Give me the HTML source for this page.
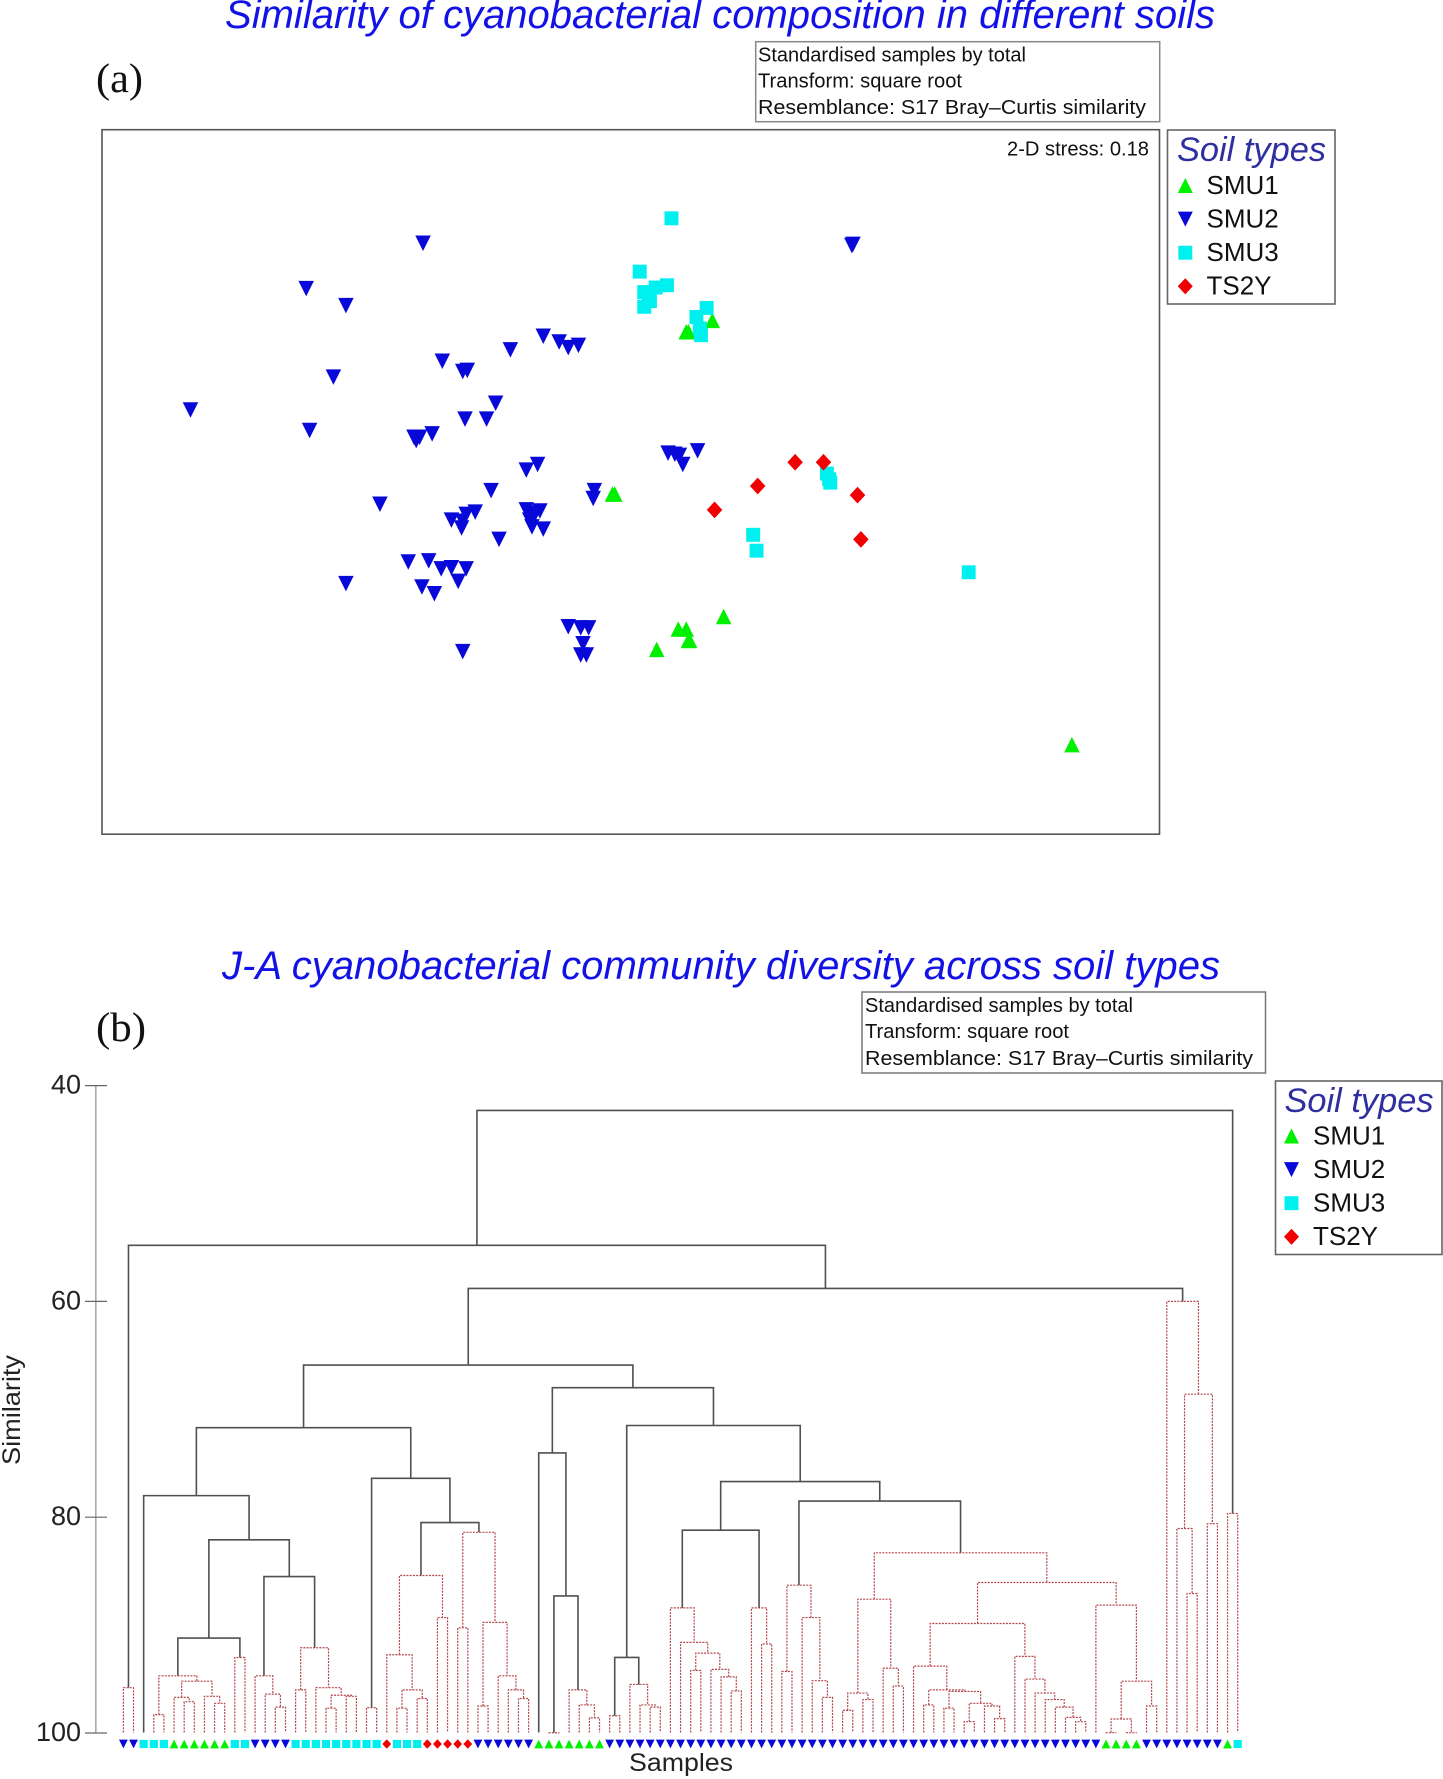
<!DOCTYPE html>
<html lang="en">
<head>
<meta charset="utf-8">
<title>Cyanobacterial composition in soils</title>
<style>
html,body{margin:0;padding:0;background:#fff;}
svg{display:block;}
text{font-family:"Liberation Sans",sans-serif;}
.serif{font-family:"Liberation Serif",serif;}
.title{font-style:italic;font-size:40px;fill:#1212e6;}
.info{font-size:20px;fill:#111;}
.legtitle{font-style:italic;font-size:34px;fill:#2f2f9f;}
.leg{font-size:26px;fill:#111;}
.tick{font-size:27px;fill:#222;text-anchor:end;}
</style>
</head>
<body>
<svg id="figure" xmlns="http://www.w3.org/2000/svg" width="1443" height="1779" viewBox="0 0 1443 1779">
  <rect x="0" y="0" width="1443" height="1779" fill="#fff"/>

  <text class="title" x="225" y="28" textLength="990" lengthAdjust="spacingAndGlyphs">Similarity of cyanobacterial composition in different soils</text>
  <text class="serif" x="96" y="92" font-size="41" fill="#111" textLength="47" lengthAdjust="spacingAndGlyphs">(a)</text>

  <rect x="755.7" y="41.7" width="404" height="80" fill="#fff" stroke="#888" stroke-width="1.5"/>
  <text class="info" x="758" y="61.5" textLength="268" lengthAdjust="spacingAndGlyphs">Standardised samples by total</text>
  <text class="info" x="758" y="87.5" textLength="204" lengthAdjust="spacingAndGlyphs">Transform: square root</text>
  <text class="info" x="758" y="114" textLength="388" lengthAdjust="spacingAndGlyphs">Resemblance: S17 Bray–Curtis similarity</text>

  <rect x="102" y="129.7" width="1057.5" height="704.5" fill="#fff" stroke="#555" stroke-width="1.6"/>
  <text class="info" x="1007" y="155.5" textLength="142" lengthAdjust="spacingAndGlyphs">2-D stress: 0.18</text>

  <g id="legend-a">
    <rect x="1167.5" y="130" width="167.5" height="174" fill="#fff" stroke="#666" stroke-width="1.6"/>
    <text class="legtitle" x="1177" y="161" textLength="149" lengthAdjust="spacingAndGlyphs">Soil types</text>
    <text class="leg" x="1206.5" y="194">SMU1</text>
    <text class="leg" x="1206.5" y="227.5">SMU2</text>
    <text class="leg" x="1206.5" y="261">SMU3</text>
    <text class="leg" x="1206.5" y="294.5">TS2Y</text>
  </g>
  <g id="mds-marks"></g>

  <text class="title" x="222" y="979" textLength="998" lengthAdjust="spacingAndGlyphs">J-A cyanobacterial community diversity across soil types</text>
  <text class="serif" x="96" y="1041" font-size="41" fill="#111" textLength="50" lengthAdjust="spacingAndGlyphs">(b)</text>

  <rect x="862" y="992" width="403.5" height="81" fill="#fff" stroke="#777" stroke-width="1.5"/>
  <text class="info" x="865" y="1012" textLength="268" lengthAdjust="spacingAndGlyphs">Standardised samples by total</text>
  <text class="info" x="865" y="1038" textLength="204" lengthAdjust="spacingAndGlyphs">Transform: square root</text>
  <text class="info" x="865" y="1065" textLength="388" lengthAdjust="spacingAndGlyphs">Resemblance: S17 Bray–Curtis similarity</text>

  <g id="legend-b">
    <rect x="1275.5" y="1081" width="166.5" height="173.5" fill="#fff" stroke="#666" stroke-width="1.6"/>
    <text class="legtitle" x="1284.5" y="1112" textLength="149" lengthAdjust="spacingAndGlyphs">Soil types</text>
    <text class="leg" x="1313" y="1144.5">SMU1</text>
    <text class="leg" x="1313" y="1178">SMU2</text>
    <text class="leg" x="1313" y="1211.5">SMU3</text>
    <text class="leg" x="1313" y="1245">TS2Y</text>
  </g>

  <g id="dendro-axis"></g>
  <text transform="translate(20,1410) rotate(-90)" text-anchor="middle" font-size="25" fill="#222" textLength="110" lengthAdjust="spacingAndGlyphs">Similarity</text>
  <g id="dendro-links"></g>
  <g id="dendro-leaves"></g>
  <text x="629" y="1771" font-size="25" fill="#222" textLength="104" lengthAdjust="spacingAndGlyphs">Samples</text>
</svg>

<script>
// ---------- Panel (a): MDS ordination values [mds1, mds2] ----------
var mdsSmu1 = [[4.50,3.00],[4.52,3.00],[5.48,1.92],[5.08,1.81],[5.15,1.81],[5.17,1.71],[5.18,1.71],[4.89,1.63],[8.55,0.79],[5.17,4.43],[5.15,4.43],[5.38,4.53]];
var mdsSmu2 = [[2.83,5.21],[1.80,4.81],[2.15,4.66],[6.61,5.19],[6.62,5.20],[2.04,4.03],[3.00,4.17],[3.18,4.08],[3.22,4.09],[3.60,4.27],[3.89,4.39],[4.03,4.34],[4.11,4.29],[4.20,4.31],[0.78,3.74],[1.83,3.56],[2.77,3.47],[2.80,3.50],[2.91,3.53],[2.75,3.50],[3.20,3.66],[3.39,3.66],[3.47,3.80],[3.74,3.21],[3.84,3.26],[4.99,3.36],[5.05,3.35],[5.09,3.34],[5.12,3.26],[5.25,3.38],[3.43,3.03],[2.45,2.91],[4.34,3.03],[4.33,2.96],[3.29,2.84],[3.21,2.82],[3.08,2.77],[3.17,2.70],[3.18,2.76],[3.74,2.86],[3.86,2.85],[3.79,2.80],[3.77,2.77],[3.79,2.71],[3.89,2.69],[3.82,2.83],[3.50,2.60],[2.70,2.40],[2.88,2.41],[2.99,2.34],[3.08,2.35],[3.21,2.34],[3.14,2.23],[2.82,2.18],[2.93,2.12],[2.15,2.21],[4.11,1.83],[4.22,1.82],[4.29,1.82],[4.24,1.68],[4.22,1.58],[4.27,1.58],[3.18,1.61]];
var mdsSmu3 = [[5.02,5.43],[4.74,4.96],[4.78,4.78],[4.88,4.82],[4.98,4.84],[4.82,4.74],[4.78,4.65],[4.83,4.70],[5.33,4.64],[5.24,4.56],[5.28,4.40],[5.27,4.46],[6.39,3.18],[6.42,3.10],[6.41,3.13],[5.74,2.64],[5.77,2.50],[7.64,2.31]];
var mdsTs2y = [[6.11,3.28],[6.36,3.28],[5.78,3.07],[6.66,2.99],[5.40,2.86],[6.69,2.60]];

// ---------- Panel (b): dendrogram values ----------
var similarityTicks = [40, 60, 80, 100];
// leaf marker type, in dendrogram order: 1=SMU1 2=SMU2 3=SMU3 4=TS2Y
var sampleTypes = [2,2,3,3,3,1,1,1,1,1,1,3,3,2,2,2,2,3,3,3,3,3,3,3,3,3,4,3,3,3,4,4,4,4,4,2,2,2,2,2,2,1,1,1,1,1,1,1,2,2,2,2,2,2,2,2,2,2,2,2,2,2,2,2,2,2,2,2,2,2,2,2,2,2,2,2,2,2,2,2,2,2,2,2,2,2,2,2,2,2,2,2,2,2,2,2,2,1,1,1,1,2,2,2,2,2,2,2,2,1,3];
// tree node: [similarity, left, right, solid]; a bare number is a leaf sample index
var tree = [42.3,
  [54.8,
    [95.8,0,1,0],
    [58.8,
      [65.9,
        [71.7,
          [78.0,2,
            [82.1,
              [91.2,
                [94.7,[98.3,3,4,0],[95.2,[96.7,5,[97.1,6,7,0],0],[96.6,8,[97.25,9,10,0],0],0],0],
                [93.0,11,12,0],1],
              [85.5,
                [94.7,13,[96.4,14,[97.6,15,16,0],0],0],
                [92.1,[96.0,17,18,0],[95.8,19,[96.5,[97.7,20,21,0],[96.6,22,23,0],0],0],0],1],
              1],
            1],
          [76.4,
            [97.65,24,25,0],
            [80.5,
              [85.4,[92.75,26,[96.0,[97.7,27,28,0],[96.8,29,30,0],0],0],[89.3,31,32,0],0],
              [81.4,[90.25,33,34,0],[89.75,[97.5,35,36,0],[94.7,37,[96.0,38,[96.8,39,40,0],0],0],0],0],
              1],
            1],
          1],
        [68.0,
          [74.04,41,[87.3,[99.98,42,43,0],[96.0,44,[97.4,45,[98.6,46,47,0],0],0],1],1],
          [71.5,
            [93.0,[98.4,48,49,0],[95.5,50,[97.4,51,[97.6,52,53,0],0],0],1],
            [76.7,
              [81.2,
                [88.4,54,[91.6,55,[92.6,[94.2,56,57,0],[94.1,58,[94.8,59,[96.1,60,61,0],0],0],0],0],0],
                [88.4,62,[91.75,63,64,0],0],
                1],
              [78.5,
                [86.3,[94.3,65,66,0],[89.3,67,[95.15,68,[96.7,69,70,0],0],0],0],
                [83.3,
                  [87.6,[96.3,[97.9,71,72,0],[96.9,73,74,0],0],[94.0,75,[95.65,76,77,0],0],0],
                  [86.05,
                    [89.85,
                      [93.8,78,[96.0,[97.4,79,80,0],[96.15,[97.7,81,82,0],[97.25,[98.95,83,84,0],[97.5,85,[98.67,86,87,0],0],0],0],0],0],
                      [92.9,88,[95.0,89,[96.3,90,[96.9,91,[97.6,92,[98.55,93,[98.95,94,95,0],0],0],0],0],0],0],
                      0],
                    [88.15,96,[95.2,[98.7,[99.97,97,98,0],[99.97,99,100,0],0],[97.5,101,102,0],0],0],
                    0],
                  0],
                1],
              1],
            1],
          1],
        1],
      [60.0,103,[68.6,[81.05,104,[87.07,105,106,0],0],[80.6,107,108,0],0],0],
      1],
    1],
  [79.65,109,110,0],
  1];

var SVGNS = 'http://www.w3.org/2000/svg';

// Axis functions
function mdsX(v) { return 102 + v * 113.44; }
function mdsY(v) { return 834.3 - v * 113.44; }
function simY(s) { return 1733 - (100 - s) * 10.79; }
function leafX(i) { return 123.4 + i * 10.13; }

var typeColor = { 1: '#00f000', 2: '#0808d8', 3: '#00f0f0', 4: '#f00000' };

function markerPoints(type, cx, cy, size) {
  var r = size / 2;
  if (type === 1) return [[cx, cy - r], [cx + r, cy + r], [cx - r, cy + r]];
  if (type === 2) return [[cx - r, cy - r], [cx + r, cy - r], [cx, cy + r]];
  if (type === 3) return [[cx - r * 0.93, cy - r * 0.93], [cx + r * 0.93, cy - r * 0.93], [cx + r * 0.93, cy + r * 0.93], [cx - r * 0.93, cy + r * 0.93]];
  return [[cx, cy - r * 1.08], [cx + r, cy], [cx, cy + r * 1.08], [cx - r, cy]];
}

function addMarker(parent, type, cx, cy, size, name) {
  var el = document.createElementNS(SVGNS, 'polygon');
  el.setAttribute('points', markerPoints(type, cx, cy, size).map(function (p) { return p[0].toFixed(2) + ',' + p[1].toFixed(2); }).join(' '));
  el.setAttribute('fill', typeColor[type]);
  
  
  parent.appendChild(el);
}

// Panel (a) points, in original stacking order
var mdsGroup = document.getElementById('mds-marks');
mdsSmu1.forEach(function (p) { addMarker(mdsGroup, 1, mdsX(p[0]), mdsY(p[1]), 15.5, 'smu1-point'); });
mdsSmu2.forEach(function (p) { addMarker(mdsGroup, 2, mdsX(p[0]), mdsY(p[1]), 15.5, 'smu2-point'); });
mdsSmu3.forEach(function (p) { addMarker(mdsGroup, 3, mdsX(p[0]), mdsY(p[1]), 15, 'smu3-point'); });
mdsTs2y.forEach(function (p) { addMarker(mdsGroup, 4, mdsX(p[0]), mdsY(p[1]), 15.5, 'ts2y-point'); });

// Legend markers
var legendA = document.getElementById('legend-a');
var legendB = document.getElementById('legend-b');
[1, 2, 3, 4].forEach(function (t, i) {
  addMarker(legendA, t, 1185.3, 185.5 + i * 33.6, 15, 'legend-a-marker');
  addMarker(legendB, t, 1291.5, 1136 + i * 33.6, 15, 'legend-b-marker');
});

// Similarity axis
var axisGroup = document.getElementById('dendro-axis');
var axisLine = document.createElementNS(SVGNS, 'line');
axisLine.setAttribute('x1', 95.8);
axisLine.setAttribute('x2', 95.8);
axisLine.setAttribute('y1', simY(similarityTicks[0]));
axisLine.setAttribute('y2', simY(similarityTicks[similarityTicks.length - 1]));
axisLine.setAttribute('stroke', '#aaa');
axisLine.setAttribute('stroke-width', 1.6);


axisGroup.appendChild(axisLine);
similarityTicks.forEach(function (t) {
  var tick = document.createElementNS(SVGNS, 'line');
  tick.setAttribute('x1', 85);
  tick.setAttribute('x2', 107);
  tick.setAttribute('y1', simY(t));
  tick.setAttribute('y2', simY(t));
  tick.setAttribute('stroke', '#666');
  tick.setAttribute('stroke-width', 1.2);
  
  
  axisGroup.appendChild(tick);
  var lab = document.createElementNS(SVGNS, 'text');
  lab.setAttribute('class', 'tick');
  lab.setAttribute('x', 81);
  lab.setAttribute('y', simY(t) + 8);
  lab.textContent = String(t);
  
  
  axisGroup.appendChild(lab);
});

// Dendrogram links, laid out recursively from the tree
var linkGroup = document.getElementById('dendro-links');
function layout(node) {
  if (typeof node === 'number') return { x: leafX(node), y: simY(100) - 0.5 };
  var a = layout(node[1]);
  var b = layout(node[2]);
  var y = simY(node[0]);
  var path = document.createElementNS(SVGNS, 'path');
  path.setAttribute('d', 'M' + a.x.toFixed(2) + ' ' + a.y.toFixed(2) + 'V' + y.toFixed(2) + 'H' + b.x.toFixed(2) + 'V' + b.y.toFixed(2));
  path.setAttribute('fill', 'none');
  if (node[3]) {
    path.setAttribute('stroke', '#505050');
    path.setAttribute('stroke-width', 1.6);
    
  } else {
    path.setAttribute('stroke', '#b4474a');
    path.setAttribute('stroke-width', 1.2);
    path.setAttribute('stroke-dasharray', '2 1.2');
    
  }
  
  linkGroup.appendChild(path);
  return { x: (a.x + b.x) / 2, y: y };
}
layout(tree);

// Sample markers along the baseline
var leafGroup = document.getElementById('dendro-leaves');
sampleTypes.forEach(function (t, i) {
  addMarker(leafGroup, t, leafX(i), 1744, 8.8, 'sample-marker');
});
</script>
</body>
</html>
